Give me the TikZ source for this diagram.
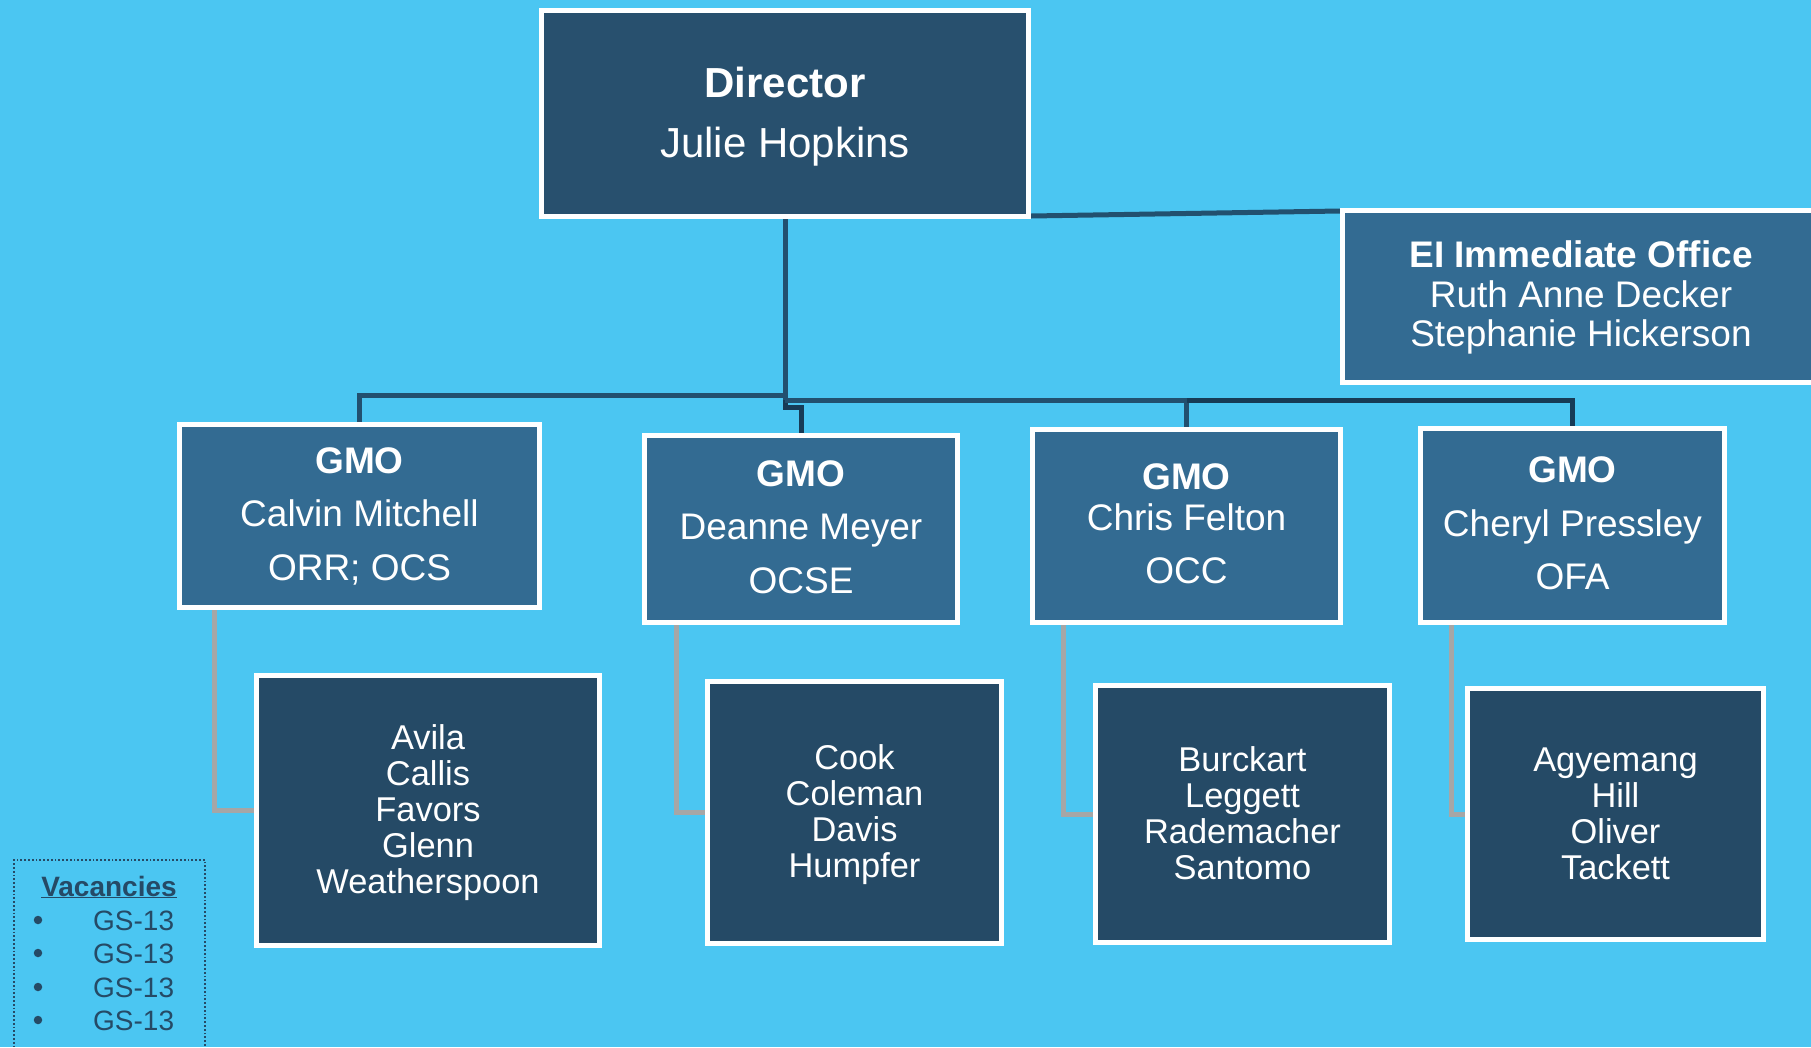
\documentclass[tikz,border=0pt]{standalone}
\usepackage{fontspec}
\setmainfont{Liberation Sans}
\usetikzlibrary{calc}
\definecolor{sky}{HTML}{4BC6F2}
\definecolor{navy}{HTML}{28506E}
\definecolor{steel}{HTML}{336B92}
\definecolor{team}{HTML}{254A66}
\definecolor{busline}{HTML}{22506F}
\definecolor{busdeep}{HTML}{173B56}
\definecolor{linkgray}{HTML}{A6A6A6}
\newcommand\setfs[2]{\fontsize{#1}{#2}\selectfont}
% first-line strut, taller by #1 to lower the text block by #1/2
\newcommand\headstrut[1]{\rule[-0.3\baselineskip]{0pt}{\dimexpr\baselineskip+#1\relax}}
\pgfdeclarelayer{back}
\pgfdeclarelayer{links}
\pgfsetlayers{back,links,main}
\begin{document}
\begin{tikzpicture}[x=1pt,y=-1pt,
  box/.style={draw=white, line width=5pt, inner sep=0pt, text=white, align=center},
  headbox/.style={box, fill=navy, font=\setfs{42}{60}},
  officebox/.style={box, fill=steel, font=\setfs{37}{39.5}},
  gmobox/.style={box, fill=steel, font=\setfs{37}{53.5}},
  teambox/.style={box, fill=team, font=\setfs{34.4}{36}},
  bus/.style={draw=busline, line width=5pt},
  busdark/.style={draw=busdeep, line width=5pt},
  teamlink/.style={draw=linkgray, line width=5pt},
  vactext/.style={text=team, font=\setfs{28}{33}, inner sep=0pt},
  bulletdot/.style={circle, fill=team, minimum size=8.5pt, inner sep=0pt}]

% background and page extent
\begin{pgfonlayer}{back}
\fill[sky] (0,0) rectangle (1811,1047);
\end{pgfonlayer}
\useasboundingbox (0,0) rectangle (1811,1047);

% boxes
\node[headbox, minimum width=487, minimum height=206] (dir) at (785,113.5)
  {{\bfseries\headstrut{4pt}Director}\\\strut Julie Hopkins};
\node[officebox, minimum width=477, minimum height=172] (ei) at (1581,296.5)
  {{\bfseries\headstrut{6pt}EI Immediate Office}\\\strut Ruth Anne Decker\\\strut Stephanie Hickerson};

\node[gmobox, minimum width=360, minimum height=183] (g1) at (359.5,516)
  {{\bfseries\strut GMO}\\\strut Calvin Mitchell\\\strut ORR; OCS};
\node[gmobox, minimum width=313, minimum height=187] (g2) at (801,529)
  {{\bfseries\strut GMO}\\\strut Deanne Meyer\\\strut OCSE};
\node[gmobox, minimum width=308, minimum height=193] (g3) at (1186.5,526)
  {{\bfseries\strut GMO}\\[-13pt]\strut Chris Felton\\\strut OCC};
\node[gmobox, minimum width=304, minimum height=194] (g4) at (1572.5,525.5)
  {{\bfseries\strut GMO}\\\strut Cheryl Pressley\\\strut OFA};

\node[teambox, minimum width=343, minimum height=270] (t1) at (428,810.5)
  {\headstrut{8pt}Avila\\\strut Callis\\\strut Favors\\\strut Glenn\\\strut Weatherspoon};
\node[teambox, minimum width=294, minimum height=262] (t2) at (854.5,812)
  {\headstrut{8pt}Cook\\\strut Coleman\\\strut Davis\\\strut Humpfer};
\node[teambox, minimum width=294, minimum height=257] (t3) at (1242.5,814)
  {\headstrut{8pt}Burckart\\\strut Leggett\\\strut Rademacher\\\strut Santomo};
\node[teambox, minimum width=296, minimum height=251] (t4) at (1615.5,814)
  {\headstrut{8pt}Agyemang\\\strut Hill\\\strut Oliver\\\strut Tackett};

% connectors, behind the boxes
\begin{pgfonlayer}{links}
\coordinate (hub) at (785,400);
\draw[bus] ($(dir.south east)+(0,-3)$) -- ($(ei.north west)+(0,3)$);
\draw[bus] (dir.south) -- (hub);
\draw[bus] (hub |- 0,395) -| (g1.north);
\draw[busdark] (hub) -- ++(0,7) -| (g2.north);
\draw[bus] (hub) -| (g3.north);
\draw[busdark] (g3.north |- hub) -| (g4.north);
\draw[teamlink] ($(g1.south west)+(37,0)$) |- (t1.west);
\draw[teamlink] ($(g2.south west)+(34,0)$) |- (t2.west);
\draw[teamlink] ($(g3.south west)+(33,0)$) |- (t3.west);
\draw[teamlink] ($(g4.south west)+(33,0)$) |- (t4.west);
\end{pgfonlayer}

% vacancies list
\node[draw=team, line width=1.8pt, dotted, minimum width=191, minimum height=200,
      inner sep=0pt] (vac) at (109.5,960) {};
\node[vactext, anchor=base] (vt) at (109,896) {\underline{\textbf{Vacancies}}};
\foreach \i/\y in {1/930,2/963,3/997,4/1030}{
  \node[bulletdot] (vb\i) at (38,\y-10) {};
  \node[vactext, anchor=base west] (vg\i) at (93,\y) {GS-13};
}
\end{tikzpicture}
\end{document}
